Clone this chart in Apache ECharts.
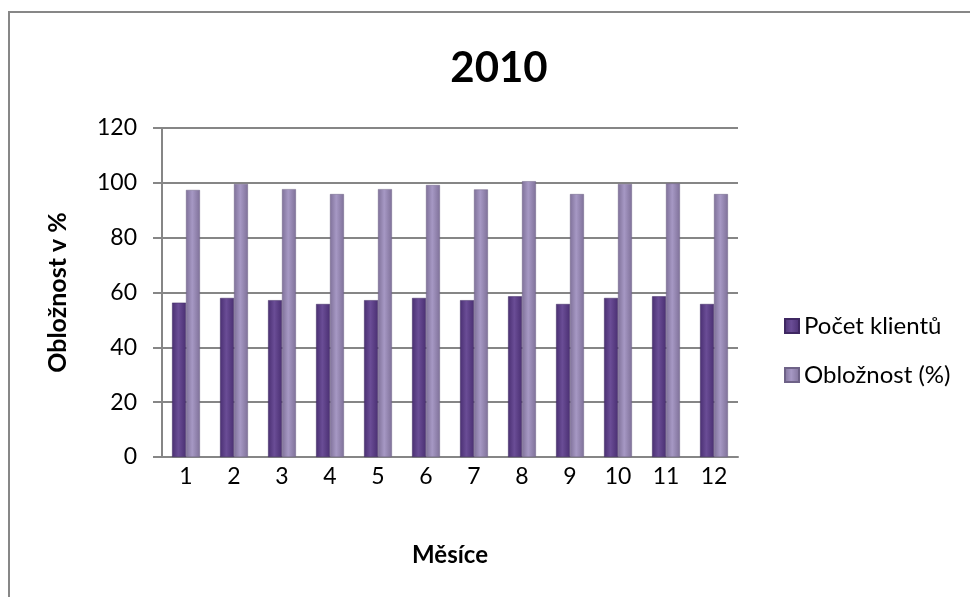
<!DOCTYPE html>
<html><head><meta charset="utf-8">
<script src="https://cdn.jsdelivr.net/npm/echarts@6/dist/echarts.min.js"></script>
<style>html,body{margin:0;padding:0;background:#fff}#c{width:970px;height:597px}</style>
</head><body><div id="c"></div>
<script>
const categories = ['1','2','3','4','5','6','7','8','9','10','11','12'];
const pocetKlientu = [56.3, 58, 57.2, 55.8, 57.2, 58, 57.2, 58.6, 55.8, 58, 58.6, 55.8];
const obloznost = [97.4, 99.6, 97.7, 95.9, 97.7, 99.2, 97.6, 100.6, 95.9, 99.6, 99.8, 95.9];
const yTicks = [0, 20, 40, 60, 80, 100, 120];

const FONT = 'Lato, "Open Sans", sans-serif';
function grad(edge, mid) {
  return new echarts.graphic.LinearGradient(0, 0, 1, 0, [
    {offset: 0, color: edge}, {offset: 0.45, color: mid}, {offset: 1, color: edge}
  ]);
}
const chart = echarts.init(document.getElementById('c'));
chart.setOption({
  animation: false,
  backgroundColor: '#fff',
  graphic: [{type: 'rect', shape: {x: 9, y: 12, width: 980, height: 620},
    style: {fill: 'none', stroke: '#878787', lineWidth: 2}, silent: true}],
  title: {text: '2010', left: 494, top: 42, textAlign: 'center',
    textStyle: {fontFamily: FONT, fontSize: 42, fontWeight: 'bold', color: '#000'}},
  legend: {orient: 'vertical', left: 779, top: 309, itemGap: 25, itemWidth: 14, itemHeight: 14,
    icon: 'rect', textStyle: {fontFamily: FONT, fontSize: 24, color: '#000'},
    data: ['Počet klientů', 'Obložnost (%)']},
  grid: {left: 162, right: 232, top: 128, bottom: 140},
  xAxis: {type: 'category', data: categories, name: 'Měsíce', nameLocation: 'middle', nameGap: 86,
    nameTextStyle: {fontFamily: FONT, fontSize: 24, fontWeight: 'bold', color: '#000'},
    axisLine: {lineStyle: {color: '#868686', width: 2}}, axisTick: {show: false},
    axisLabel: {fontFamily: FONT, fontSize: 23, color: '#000', margin: 8}},
  yAxis: {type: 'value', min: 0, max: 120, interval: 20, name: 'Obložnost v %', nameLocation: 'middle', nameGap: 92,
    nameTextStyle: {fontFamily: FONT, fontSize: 25, fontWeight: 'bold', color: '#000'},
    axisLine: {show: true, lineStyle: {color: '#868686', width: 2}},
    axisTick: {show: true, length: 9, lineStyle: {color: '#868686', width: 2}},
    splitLine: {lineStyle: {color: '#868686', width: 2}},
    axisLabel: {fontFamily: FONT, fontSize: 23, color: '#000', margin: 25,
      formatter: v => yTicks.includes(v) ? String(v) : ''}},
  series: [
    {name: 'Počet klientů', type: 'bar', data: pocetKlientu, barGap: '0%', barCategoryGap: '42%',
      itemStyle: {color: grad('#4a2f72', '#6a4d96'), borderColor: '#3f2862', borderWidth: 0.5}},
    {name: 'Obložnost (%)', type: 'bar', data: obloznost,
      itemStyle: {color: grad('#7f7199', '#a698c4'), borderColor: '#6e6287', borderWidth: 0.5}}
  ]
});
</script></body></html>
